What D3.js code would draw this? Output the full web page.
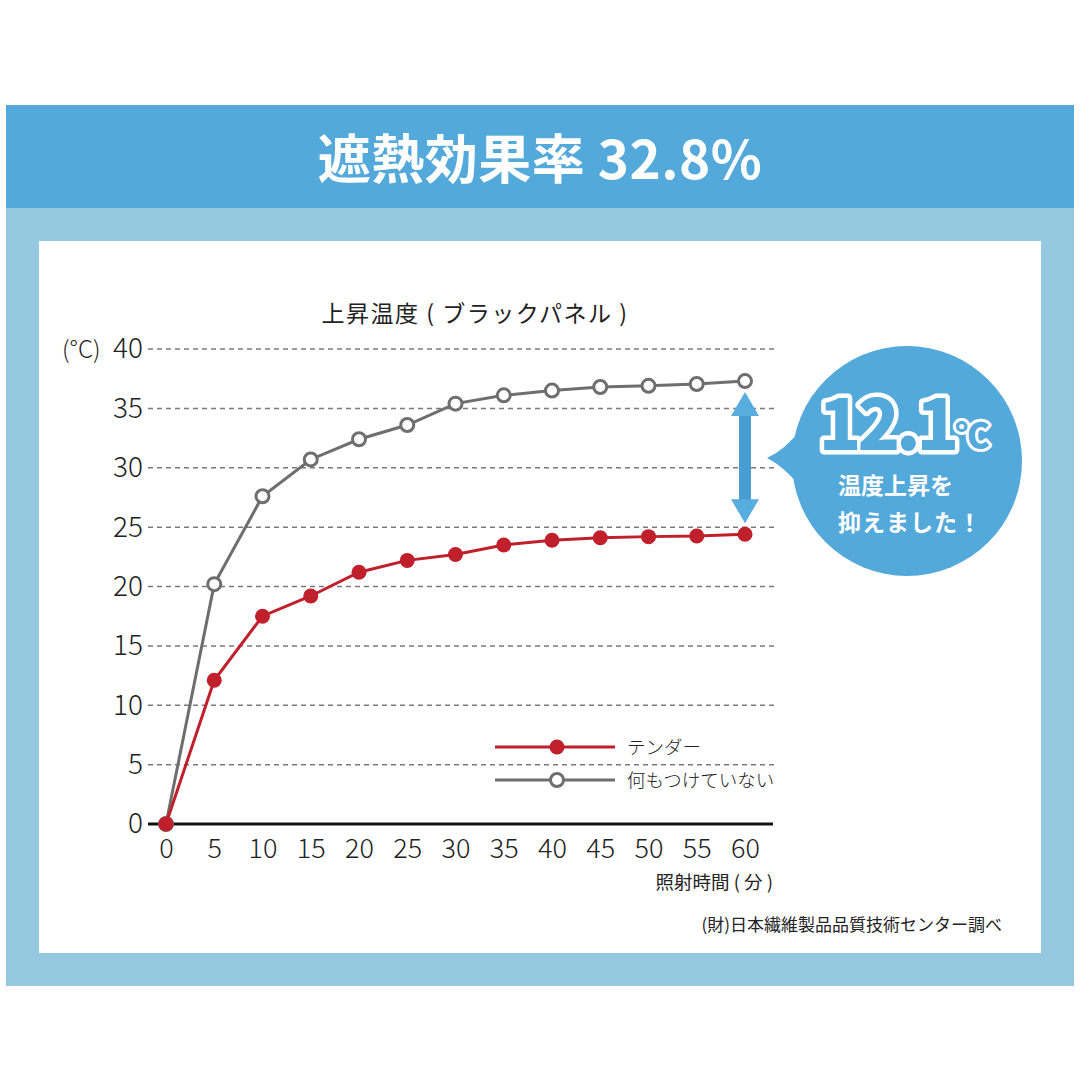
<!DOCTYPE html>
<html>
<head>
<meta charset="utf-8">
<script src="https://cdn.jsdelivr.net/npm/d3@7"></script>
<style>
  html, body { margin: 0; padding: 0; background: #fff; }
  svg { display: block; font-family: "Noto Sans CJK JP", "Noto Sans", sans-serif; }
</style>
</head>
<body>
<svg id="chart" width="1080" height="1080"></svg>
<script>
// data
var minutes = [0, 5, 10, 15, 20, 25, 30, 35, 40, 45, 50, 55, 60];
var tender = [0, 12.1, 17.5, 19.2, 21.2, 22.2, 22.7, 23.5, 23.9, 24.1, 24.2, 24.25, 24.4];
var nothing = [0, 20.2, 27.6, 30.7, 32.4, 33.6, 35.4, 36.1, 36.5, 36.8, 36.9, 37.05, 37.3];
var yTicks = [0, 5, 10, 15, 20, 25, 30, 35, 40];
var seriesNames = ["テンダー", "何もつけていない"];

var svg = d3.select("#chart");

// frame
svg.append("rect").attr("x", 6).attr("y", 105).attr("width", 1068).attr("height", 103).attr("fill", "#53a9da");
svg.append("rect").attr("x", 6).attr("y", 208).attr("width", 1068).attr("height", 778).attr("fill", "#96c8df");
svg.append("rect").attr("x", 39).attr("y", 241).attr("width", 1002).attr("height", 712).attr("fill", "#fff");

svg.append("text").attr("x", 540).attr("y", 179).attr("text-anchor", "middle")
  .attr("font-size", 53).attr("font-weight", 700).attr("fill", "#fff").attr("letter-spacing", 0.5)
  .text("遮熱効果率 32.8%");

var x = d3.scaleLinear().domain([0, 60]).range([166, 745]);
var y = d3.scaleLinear().domain([0, 40]).range([824, 349]);

// title
svg.append("text").attr("x", 475).attr("y", 322).attr("text-anchor", "middle")
  .attr("font-size", 23).attr("fill", "#222").attr("letter-spacing", 1.5).text("上昇温度 ( ブラックパネル )");

// grid
var grid = svg.append("g");
grid.selectAll("line").data(yTicks.filter(function(d) { return d > 0; })).enter().append("line")
  .attr("x1", 148).attr("x2", 775)
  .attr("y1", function(d) { return y(d); }).attr("y2", function(d) { return y(d); })
  .attr("stroke", "#7a7a7a").attr("stroke-width", 1.5).attr("stroke-dasharray", "5,4");

// y axis labels
var yAxis = d3.axisLeft(y).tickValues(yTicks).tickSize(0).tickPadding(0);
var gy = svg.append("g").attr("transform", "translate(143,0)").call(yAxis);
gy.select(".domain").remove();
gy.selectAll("text").attr("font-size", 28).attr("fill", "#222").attr("font-weight", 300)
  .attr("font-family", "'Noto Sans CJK JP', sans-serif");
svg.append("text").attr("x", 62).attr("y", 358).attr("font-size", 24).attr("fill", "#222")
  .attr("font-weight", 300).text("(°C)");

// x axis
var xAxis = d3.axisBottom(x).tickValues(minutes).tickSize(0).tickPadding(15);
var gx = svg.append("g").attr("transform", "translate(0,824)").call(xAxis);
gx.select(".domain").remove();
gx.selectAll("text").attr("font-size", 27).attr("fill", "#222").attr("font-weight", 300)
  .attr("font-family", "'Noto Sans CJK JP', sans-serif");
svg.append("line").attr("x1", 148).attr("x2", 773).attr("y1", 824).attr("y2", 824)
  .attr("stroke", "#111").attr("stroke-width", 3);

svg.append("text").attr("x", 773).attr("y", 889).attr("text-anchor", "end")
  .attr("font-size", 18.5).attr("fill", "#222").text("照射時間 ( 分 )");
svg.append("text").attr("x", 1002).attr("y", 931).attr("text-anchor", "end")
  .attr("font-size", 17).attr("fill", "#222").text("(財)日本繊維製品品質技術センター調べ");

// series
var line = d3.line().x(function(d, i) { return x(minutes[i]); }).y(function(d) { return y(d); });

svg.append("path").datum(nothing).attr("d", line).attr("fill", "none")
  .attr("stroke", "#6e6e6e").attr("stroke-width", 3);
svg.append("g").selectAll("circle").data(nothing).enter().append("circle")
  .attr("cx", function(d, i) { return x(minutes[i]); }).attr("cy", function(d) { return y(d); })
  .attr("r", 6.5).attr("fill", "#fff").attr("stroke", "#6e6e6e").attr("stroke-width", 3);

svg.append("path").datum(tender).attr("d", line).attr("fill", "none")
  .attr("stroke", "#c01f2c").attr("stroke-width", 3);
svg.append("g").selectAll("circle").data(tender).enter().append("circle")
  .attr("cx", function(d, i) { return x(minutes[i]); }).attr("cy", function(d) { return y(d); })
  .attr("r", 7.5).attr("fill", "#c01f2c");

// legend
var legend = svg.append("g");
var legColors = ["#c01f2c", "#6e6e6e"];
seriesNames.forEach(function(name, i) {
  var ly = 747 + i * 33;
  legend.append("line").attr("x1", 495).attr("x2", 615).attr("y1", ly).attr("y2", ly)
    .attr("stroke", legColors[i]).attr("stroke-width", 3);
  if (i == 0) {
    legend.append("circle").attr("cx", 557).attr("cy", ly).attr("r", 7.5).attr("fill", legColors[i]);
  } else {
    legend.append("circle").attr("cx", 557).attr("cy", ly).attr("r", 6.5).attr("fill", "#fff")
      .attr("stroke", legColors[i]).attr("stroke-width", 3);
  }
  legend.append("text").attr("x", 627).attr("y", ly + 7).attr("font-size", 18.5).attr("fill", "#222")
    .attr("font-weight", 300).text(name);
});

// double arrow between last points
var ax = x(60), aTop = y(nothing[12]) + 11, aBot = y(tender[12]) - 11;
svg.append("rect").attr("x", ax - 6).attr("y", aTop + 20).attr("width", 12).attr("height", aBot - aTop - 40)
  .attr("fill", "#4a9dd0");
svg.append("path").attr("d", "M" + ax + "," + aTop + " L" + (ax + 14) + "," + (aTop + 24) + " L" + (ax - 14) + "," + (aTop + 24) + " Z")
  .attr("fill", "#58addf");
svg.append("path").attr("d", "M" + ax + "," + aBot + " L" + (ax + 14) + "," + (aBot - 24) + " L" + (ax - 14) + "," + (aBot - 24) + " Z")
  .attr("fill", "#58addf");

// callout bubble
var bubble = svg.append("g");
bubble.append("circle").attr("cx", 907).attr("cy", 461).attr("r", 115).attr("fill", "#53a9da");
bubble.append("path").attr("d", "M767,458 Q785,450 802,428 L808,498 Q790,470 767,458 Z").attr("fill", "#53a9da");

var big = bubble.append("text").attr("x", 904).attr("y", 450).attr("text-anchor", "middle")
  .attr("font-weight", 900).attr("fill", "#53a9da").attr("stroke", "#fff").attr("stroke-width", 9)
  .attr("stroke-linejoin", "round").attr("paint-order", "stroke")
  .attr("font-family", "'Noto Sans CJK JP', sans-serif");
big.append("tspan").attr("font-size", 70).attr("letter-spacing", -4).text("12.1");
big.append("tspan").attr("font-size", 34).attr("stroke-width", 6).attr("dy", -2).text("℃");

bubble.append("text").attr("x", 838).attr("y", 494).attr("font-size", 23).attr("font-weight", 700)
  .attr("fill", "#fff").text("温度上昇を");
bubble.append("text").attr("x", 838).attr("y", 531).attr("font-size", 23).attr("font-weight", 700)
  .attr("fill", "#fff").attr("letter-spacing", 1).text("抑えました！");
</script>
</body>
</html>
